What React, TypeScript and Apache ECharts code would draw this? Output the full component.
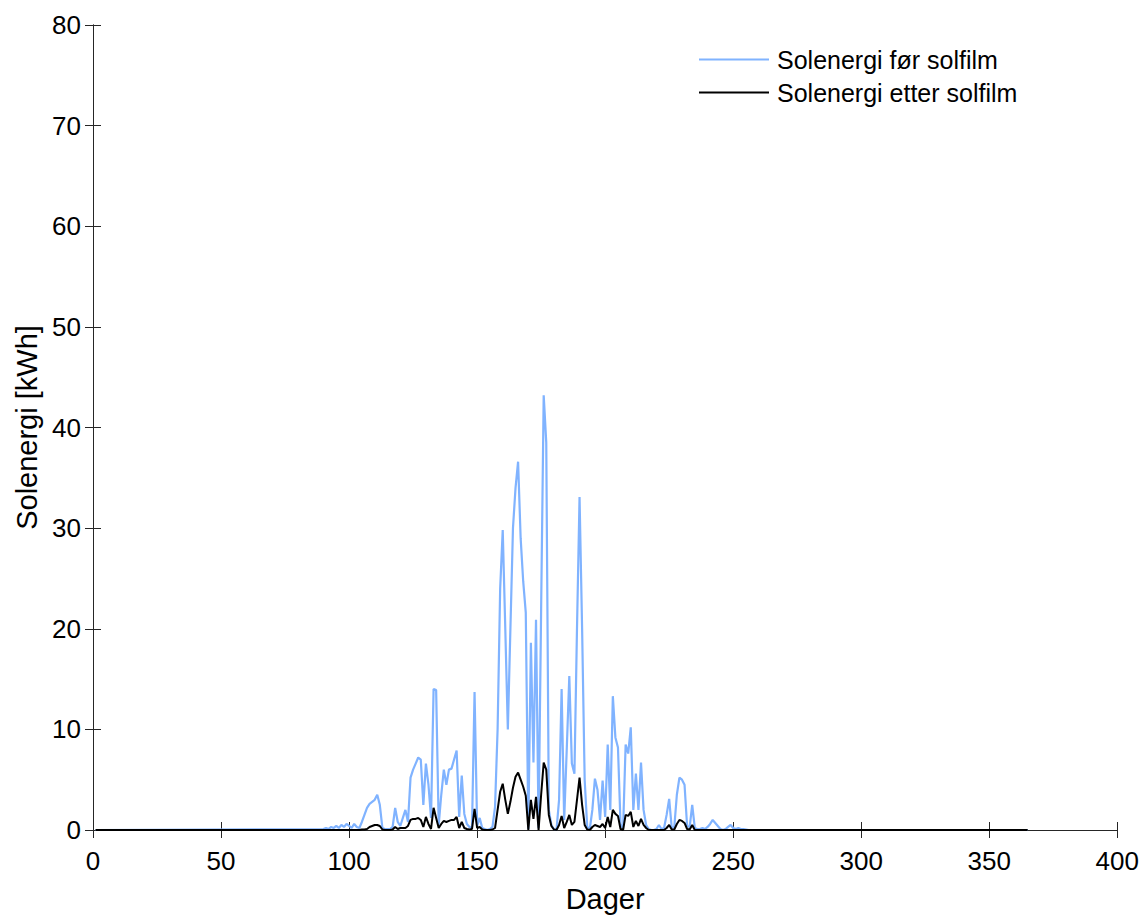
import React, { useEffect, useRef } from "react";
import * as echarts from "echarts";

// Day range of the series
const firstDay = 1;
const lastDay = 365;
const activeStart = 90; // first day of the arrays below

// Solenergi før solfilm [kWh], days 90..256
const beforeFilm = [
  0.1, 0.2, 0.1, 0.3, 0.2, 0.4, 0.2, 0.5, 0.3, 0.6,
  0.4, 0.2, 0.6, 0.3, 0.2, 0.8, 1.5, 2.2, 2.6, 2.8,
  3.0, 3.5, 2.5, 0.2, 0.1, 0.1, 0.1, 0.3, 2.2, 0.8,
  0.4, 1.2, 2.0, 0.8, 5.2, 6.0, 6.6, 7.2, 7.0, 2.5,
  6.6, 4.5, 1.2, 14.0, 13.9, 0.5, 3.5, 6.0, 4.5, 6.0,
  6.1, 7.0, 7.9, 1.3, 5.4, 1.6, 0.6, 0.3, 0.2, 13.7,
  0.4, 1.2, 0.2, 0.1, 0.0, 0.1, 0.3, 2.3, 10.0, 24.0,
  29.8, 20.0, 10.0, 20.0, 30.0, 34.0, 36.6, 29.0, 24.7, 21.6,
  0.1, 18.6, 6.7, 20.9, 0.2, 22.0, 43.2, 38.5, 2.0, 0.5,
  0.1, 0.0, 3.0, 14.0, 1.0, 8.0, 15.3, 6.6, 5.6, 20.0,
  33.1, 20.0, 5.0, 0.3, 0.1, 2.0, 5.1, 4.0, 1.0, 4.9,
  1.3, 8.5, 2.0, 13.3, 9.2, 8.2, 0.6, 0.1, 8.5, 7.6,
  10.2, 2.0, 5.6, 2.0, 6.7, 2.0, 0.5, 0.1, 0.0, 0.0,
  0.1, 0.5, 0.1, 0.2, 1.5, 3.1, 0.2, 0.3, 3.5, 5.2,
  5.0, 4.5, 0.4, 0.3, 2.5, 0.2, 0.1, 0.1, 0.2, 0.1,
  0.3, 0.6, 1.0, 0.7, 0.4, 0.1, 0.0, 0.1, 0.3, 0.5,
  0.2, 0.1, 0.2, 0.1, 0.1, 0.05, 0.0,
];

// Solenergi etter solfilm [kWh], days 90..256
const afterFilm = [
  0, 0, 0, 0, 0, 0, 0, 0, 0, 0,
  0, 0, 0, 0, 0, 0.05, 0.05, 0.1, 0.3, 0.4,
  0.5, 0.5, 0.4, 0.05, 0, 0, 0, 0.05, 0.3, 0.1,
  0.2, 0.2, 0.2, 0.4, 1.0, 1.1, 1.1, 1.2, 1.0, 0.3,
  1.3, 0.6, 0.1, 2.2, 1.2, 0.2, 0.6, 0.9, 0.8, 0.9,
  1.0, 1.0, 1.3, 0.2, 0.8, 0.2, 0.1, 0.05, 0.1, 2.1,
  0.2, 0.3, 0.05, 0, 0, 0, 0.05, 0.2, 2.0, 3.8,
  4.6, 3.0, 1.6, 2.8, 4.2, 5.3, 5.7, 5.0, 4.3, 3.4,
  0, 3.0, 1.1, 3.3, 0, 3.5, 6.7, 6.0, 1.5, 0.4,
  0.05, 0, 0.5, 1.4, 0.2, 0.8, 1.5, 0.5, 0.8, 3.0,
  5.2, 2.5, 0.5, 0.05, 0, 0.3, 0.5, 0.4, 0.3, 0.6,
  0.2, 1.3, 0.3, 2.0, 1.6, 1.4, 0.1, 0, 1.5, 1.4,
  1.8, 0.3, 0.9, 0.4, 1.1, 0.5, 0.2, 0, 0, 0,
  0, 0, 0, 0, 0.2, 0.5, 0.05, 0.05, 0.6, 1.0,
  0.9, 0.7, 0.1, 0.05, 0.5, 0, 0, 0, 0, 0,
  0, 0, 0, 0, 0, 0, 0, 0, 0, 0,
  0, 0, 0, 0, 0, 0, 0,
];

const seriesNames = ["Solenergi før solfilm", "Solenergi etter solfilm"];
const xAxisName = "Dager";
const yAxisName = "Solenergi [kWh]";
const xMin = 0, xMax = 400, xStep = 50;
const yMin = 0, yMax = 80, yStep = 10;

function toSeries(values: number[]): [number, number][] {
  const pts: [number, number][] = [[firstDay, 0]];
  values.forEach((v, i) => pts.push([activeStart + i, v]));
  pts.push([lastDay, 0]);
  return pts;
}

const FONT = "'Liberation Sans', Arial, Helvetica, sans-serif";
const AX = "#262626";

export default function App() {
  const ref = useRef<HTMLDivElement>(null);
  useEffect(() => {
    if (!ref.current) return;
    const chart = echarts.init(ref.current, undefined, { renderer: "svg" });
    const tick = { show: true, inside: true, length: 8, lineStyle: { color: AX, width: 1 } };
    const line = { show: true, lineStyle: { color: AX, width: 1 } };
    chart.setOption({
      animation: false,
      backgroundColor: "#ffffff",
      textStyle: { fontFamily: FONT },
      grid: { left: 93, right: 24, top: 25, bottom: 85, containLabel: false },
      legend: {
        orient: "vertical",
        left: 698,
        top: 47,
        padding: 0,
        itemGap: 8,
        itemWidth: 70,
        itemHeight: 25,
        itemStyle: { opacity: 0 },
        lineStyle: { width: 2 },
        textStyle: { fontSize: 25, color: "#000", fontFamily: FONT, padding: [0, 0, 0, 3] },
        data: seriesNames,
      },
      xAxis: [
        {
          type: "value", min: xMin, max: xMax, interval: xStep, position: "bottom",
          axisLine: line, axisTick: tick, splitLine: { show: false },
          axisLabel: { fontSize: 26, color: "#000", margin: 18, fontFamily: FONT },
          name: xAxisName, nameLocation: "middle", nameGap: 54,
          nameTextStyle: { fontSize: 29, color: "#000", fontFamily: FONT },
        },
        {
          type: "value", min: xMin, max: xMax, interval: xStep, position: "top",
          axisLine: line, axisTick: tick, splitLine: { show: false },
          axisLabel: { show: false },
        },
      ],
      yAxis: [
        {
          type: "value", min: yMin, max: yMax, interval: yStep, position: "left",
          axisLine: line, axisTick: tick, splitLine: { show: false },
          axisLabel: { fontSize: 26, color: "#000", margin: 12, fontFamily: FONT },
          name: yAxisName, nameLocation: "middle", nameGap: 52,
          nameTextStyle: { fontSize: 29, color: "#000", fontFamily: FONT },
        },
        {
          type: "value", min: yMin, max: yMax, interval: yStep, position: "right",
          axisLine: line, axisTick: tick, splitLine: { show: false },
          axisLabel: { show: false },
        },
      ],
      series: [
        {
          name: seriesNames[0], type: "line", xAxisIndex: 0, yAxisIndex: 0,
          data: toSeries(beforeFilm), symbol: "none", showSymbol: false,
          lineStyle: { color: "#80b3ff", width: 2.2 }, itemStyle: { color: "#80b3ff" },
        },
        {
          name: seriesNames[1], type: "line", xAxisIndex: 0, yAxisIndex: 0,
          data: toSeries(afterFilm), symbol: "none", showSymbol: false,
          lineStyle: { color: "#000000", width: 2 }, itemStyle: { color: "#000000" },
        },
      ],
    });
    return () => chart.dispose();
  }, []);
  return (
    <div
      ref={ref}
      style={{ position: "fixed", left: 0, top: 0, width: 1142, height: 918, background: "#fff" }}
    />
  );
}
